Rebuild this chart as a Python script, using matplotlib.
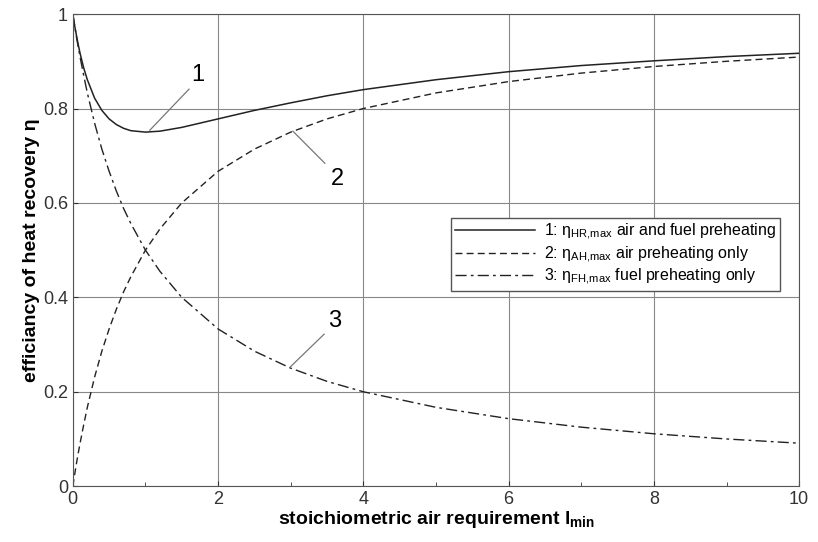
import matplotlib.pyplot as plt
from matplotlib.ticker import MultipleLocator

plt.rcParams['font.family'] = ['Liberation Sans', 'DejaVu Sans']
plt.rcParams['mathtext.fontset'] = 'custom'
plt.rcParams['mathtext.rm'] = 'Liberation Sans'
plt.rcParams['mathtext.it'] = 'Liberation Sans'
plt.rcParams['mathtext.bf'] = 'Liberation Sans:bold'

# stoichiometric air requirement l_min
l_min = [0, 0.025, 0.05, 0.075, 0.1, 0.15, 0.2, 0.3, 0.4, 0.5, 0.6, 0.7, 0.8,
         1.0, 1.2, 1.5, 2, 2.5, 3, 3.5, 4, 5, 6, 7, 8, 9, 10]
# 1: air and fuel preheating
eta_hr = [1.0, 0.976, 0.955, 0.935, 0.917, 0.886, 0.861, 0.822, 0.796, 0.778,
          0.766, 0.758, 0.753, 0.750, 0.752, 0.760, 0.778, 0.796, 0.812, 0.827,
          0.840, 0.861, 0.878, 0.891, 0.901, 0.910, 0.917]
# 2: air preheating only
eta_ah = [0.0, 0.024, 0.048, 0.070, 0.091, 0.130, 0.167, 0.231, 0.286, 0.333,
          0.375, 0.412, 0.444, 0.500, 0.545, 0.600, 0.667, 0.714, 0.750, 0.778,
          0.800, 0.833, 0.857, 0.875, 0.889, 0.900, 0.909]
# 3: fuel preheating only
eta_fh = [1.0, 0.976, 0.952, 0.930, 0.909, 0.870, 0.833, 0.769, 0.714, 0.667,
          0.625, 0.588, 0.556, 0.500, 0.455, 0.400, 0.333, 0.286, 0.250, 0.222,
          0.200, 0.167, 0.143, 0.125, 0.111, 0.100, 0.091]

fig = plt.figure(figsize=(8.18, 5.42), dpi=100)
ax = fig.add_axes([0.089, 0.103, 0.888, 0.871])

ax.plot(l_min, eta_hr, '-', color='#222222', lw=1.1,
        label=r'1: $\eta_{\rm HR{,}max}$ air and fuel preheating')
ax.plot(l_min, eta_ah, '--', color='#222222', lw=1.0, dashes=(5, 3),
        label=r'2: $\eta_{\rm AH{,}max}$ air preheating only')
ax.plot(l_min, eta_fh, '-.', color='#222222', lw=1.0, dashes=(8, 3, 2, 3),
        label=r'3: $\eta_{\rm FH{,}max}$ fuel preheating only')

# curve numbers with leader lines
ax.plot([1.06, 1.6], [0.754, 0.841], color='#777777', lw=0.9)
ax.text(1.72, 0.87, '1', fontsize=17, ha='center', va='center')
ax.plot([3.03, 3.47], [0.752, 0.684], color='#777777', lw=0.9)
ax.text(3.64, 0.65, '2', fontsize=17, ha='center', va='center')
ax.plot([2.99, 3.46], [0.252, 0.322], color='#777777', lw=0.9)
ax.text(3.6, 0.35, '3', fontsize=17, ha='center', va='center')

ax.set_xlim(0, 10)
ax.set_ylim(0, 1)
ax.set_xticks([0, 2, 4, 6, 8, 10])
ax.xaxis.set_minor_locator(MultipleLocator(1))
ax.set_yticks([0, 0.2, 0.4, 0.6, 0.8, 1])
ax.set_yticklabels(['0', '0.2', '0.4', '0.6', '0.8', '1'])
ax.tick_params(which='both', direction='in', labelsize=13, colors='#333333')
ax.tick_params(which='minor', length=3)
ax.grid(True, color='#888888', lw=0.8)
for s in ax.spines.values():
    s.set_color('#555555')

ax.set_xlabel(r'stoichiometric air requirement $\mathbf{l_{min}}$',
              fontsize=14, fontweight='bold', labelpad=1)
ax.set_ylabel('efficiancy of heat recovery η', fontsize=14,
              fontweight='bold', labelpad=2)

leg = ax.legend(loc='upper right', bbox_to_anchor=(0.985, 0.585), fontsize=11.5,
                fancybox=False, framealpha=1, edgecolor='#555555',
                handlelength=5.0, handletextpad=0.6, borderpad=0.25,
                labelspacing=0.12)

fig.savefig('out.png', dpi=100)
